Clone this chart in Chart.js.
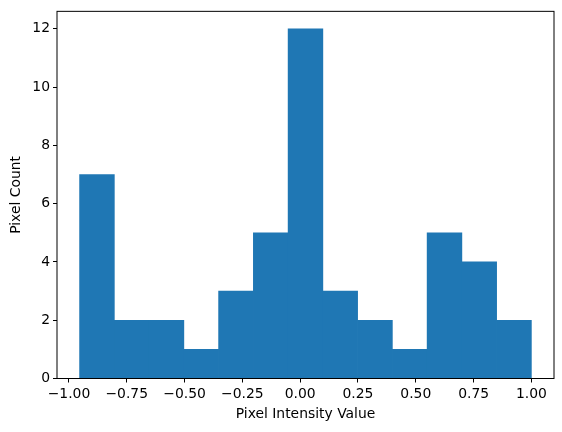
<!DOCTYPE html>
<html>
<head>
<meta charset="utf-8">
<script src="https://cdn.jsdelivr.net/npm/chart.js@4"></script>
<style>
  html, body { margin: 0; padding: 0; background: #fff; }
  #wrap { width: 562px; height: 432px; }
</style>
</head>
<body>
<div id="wrap"><canvas id="hist"></canvas></div>
<script>
"use strict"

// histogram bins (left edge of first bin, bin width) and counts
const binStart = -0.954;
const binWidth = 0.1503;
const counts = [7, 2, 2, 1, 3, 5, 12, 3, 2, 1, 5, 4, 2];

const xTicks = [-1.0, -0.75, -0.5, -0.25, 0, 0.25, 0.5, 0.75, 1.0];
const yTicks = [0, 2, 4, 6, 8, 10, 12];

const xLabel = 'Pixel Intensity Value';
const yLabel = 'Pixel Count';

const barColor = '#1f77b4';
const font = { family: 'DejaVu Sans', size: 13.9 };

const points = counts.map((c, i) => ({ x: binStart + binWidth * (i + 0.5), y: c }));

// draws the full box around the plot area, like matplotlib spines
const boxPlugin = {
    id: 'box',
    afterDraw(chart) {
        const { ctx, chartArea: a } = chart;
        ctx.save();
        ctx.strokeStyle = '#000';
        ctx.lineWidth = 1;
        ctx.strokeRect(a.left, a.top, a.right - a.left, a.bottom - a.top);
        ctx.restore();
    }
};

new Chart(document.getElementById('hist'), {
    type: 'bar',
    data: {
        datasets: [{
            data: points,
            backgroundColor: barColor,
            borderWidth: 0,
            barPercentage: 1,
            categoryPercentage: 1
        }]
    },
    options: {
        responsive: true,
        maintainAspectRatio: false,
        animation: false,
        layout: { padding: { top: 9.5, right: 8, left: 0, bottom: 0 } },
        plugins: { legend: { display: false }, tooltip: { enabled: false } },
        scales: {
            x: {
                type: 'linear',
                min: -1.0517,
                max: 1.0977,
                offset: false,
                afterBuildTicks: s => { s.ticks = xTicks.map(v => ({ value: v })); },
                afterFit: s => { s.height = 53.5; },
                ticks: {
                    color: '#000',
                    font: font,
                    padding: 4,
                    maxRotation: 0,
                    autoSkip: false,
                    callback: v => v.toFixed(2).replace('-', '\u2212')
                },
                grid: { drawOnChartArea: false, offset: false, tickLength: 4, color: '#000' },
                border: { display: false },
                title: { display: true, text: xLabel, color: '#000', font: font, padding: { top: 2, bottom: 9 } }
            },
            y: {
                min: 0,
                max: 12.6,
                afterBuildTicks: s => { s.ticks = yTicks.map(v => ({ value: v })); },
                afterFit: s => { s.width = 57; },
                ticks: { color: '#000', font: font, padding: 3 },
                grid: { drawOnChartArea: false, tickLength: 4, color: '#000' },
                border: { display: false },
                title: { display: true, text: yLabel, color: '#000', font: font, padding: { top: 8, bottom: 2 } }
            }
        }
    },
    plugins: [boxPlugin]
});
</script>
</body>
</html>
